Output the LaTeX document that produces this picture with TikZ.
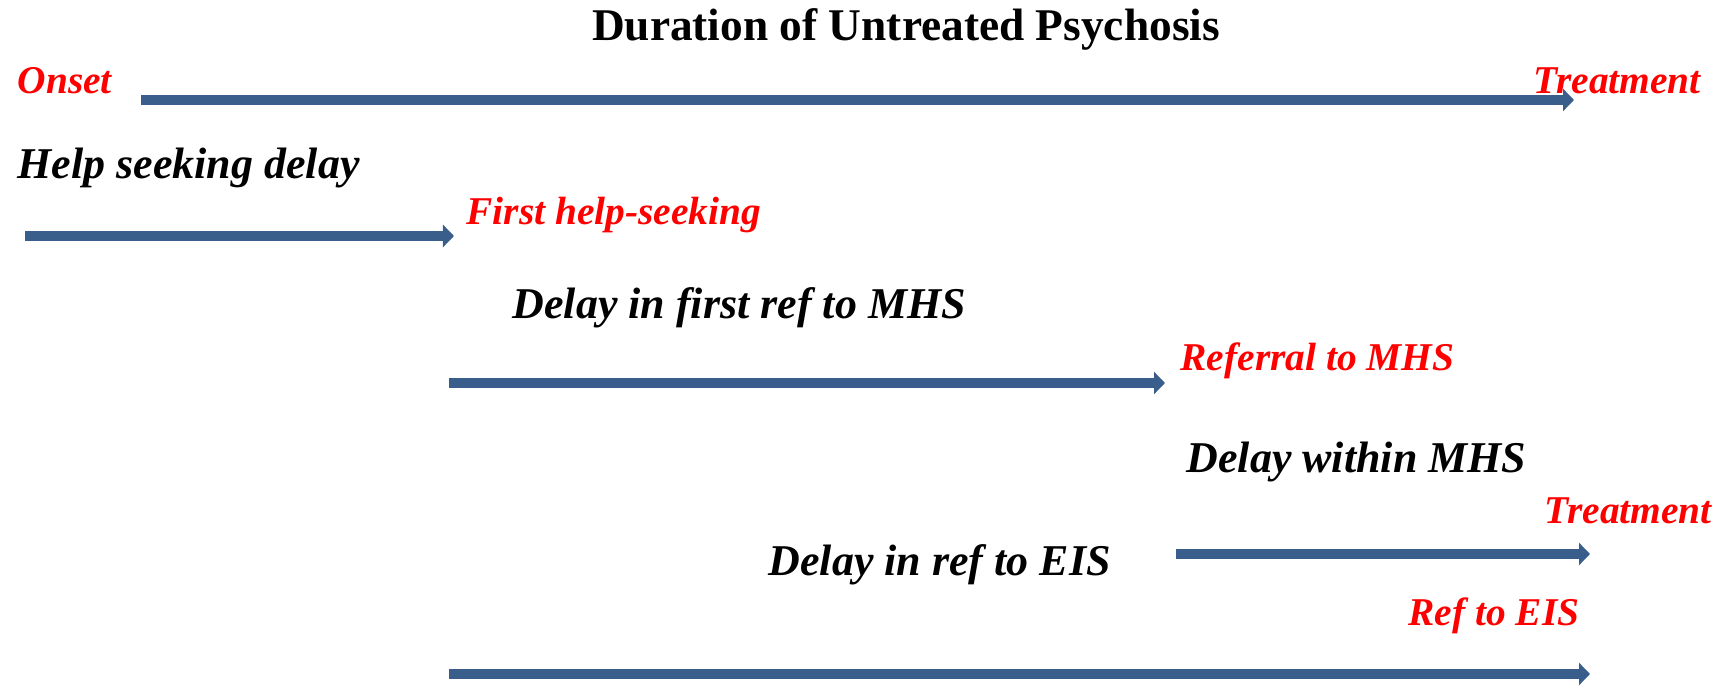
\documentclass[tikz,border=0pt]{standalone}
\usepackage{fontspec}
\setmainfont{Liberation Serif}
\usetikzlibrary{arrows.meta}
\definecolor{timeblue}{RGB}{58,94,140}
\begin{document}
\begin{tikzpicture}[x=0.01cm,y=-0.01cm]
            \useasboundingbox (0,0) rectangle (1726,688);
            \node (title) at (906,41) [anchor=base,inner sep=0pt,font=\bfseries\fontsize{12.9}{15}\selectfont] {Duration of Untreated Psychosis};
            \begin{scope}[every node/.style={anchor=base west,inner sep=0pt,text=red,font=\bfseries\itshape\fontsize{11.2}{14}\selectfont}]
                \node (onset) at (17,94) {Onset};
                \node (treat) at (1533,94) {Treatment};
                \node (helpseek) at (466,225) {First help-seeking};
                \node (refmhs) at (1180,371) {Referral to MHS};
                \node (treattwo) at (1544,524) {Treatment};
                \node (refeis) at (1408,626) {Ref to EIS};
            \end{scope}
            \begin{scope}[every node/.style={anchor=base west,inner sep=0pt,font=\bfseries\itshape\fontsize{12.5}{15}\selectfont}]
                \node (helpdelay) at (17,179) {Help seeking delay};
                \node (firstdelay) at (512,319) {Delay in first ref to MHS};
                \node (mhsdelay) at (1186,473) {Delay within MHS};
                \node (eisdelay) at (768,576) {Delay in ref to EIS};
            \end{scope}
            \begin{scope}
                \coordinate (a) at (141,100);
                \coordinate (b) at (1574,100);
                \coordinate (c) at (25,236);
                \coordinate (d) at (454,236);
                \coordinate (e) at (449,383);
                \coordinate (f) at (1165,383);
                \coordinate (g) at (1176,554);
                \coordinate (h) at (1590,554);
                \coordinate (i) at (449,674);
                \coordinate (j) at (1590,674);
            \end{scope}
            \begin{scope}[every edge/.style={draw=timeblue,line width=0.1cm,-{Triangle[length=0.11cm,width=0.22cm]}}]
                \path (a) edge (b);
                \path (c) edge (d);
                \path (e) edge (f);
                \path (g) edge (h);
                \path (i) edge (j);
            \end{scope}
        \end{tikzpicture}
\end{document}
